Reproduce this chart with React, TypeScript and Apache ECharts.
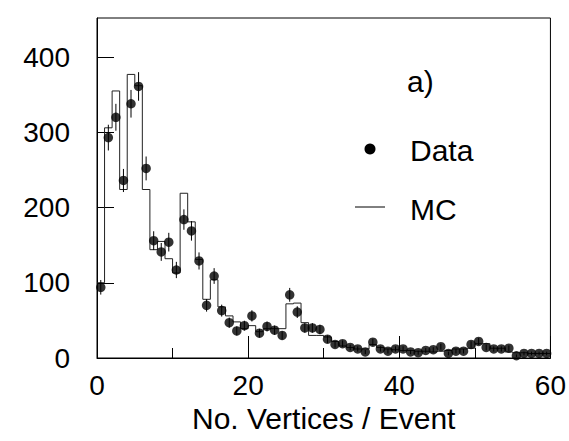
import React, { useEffect, useRef } from "react";
import * as echarts from "echarts";

// Histogram: number of vertices per event, bins of width 1 from 0 to 60
const binLeftEdges = Array.from({ length: 60 }, (_, i) => i);
const dataCounts = [
  94, 293, 320, 236, 338, 361, 252, 156, 141, 154,
  117, 184, 169, 129, 70, 109, 63, 47, 36, 43,
  56, 33, 42, 37, 30, 84, 61, 40, 40, 38,
  25, 18, 19, 14, 12, 8, 21, 12, 9, 12,
  12, 8, 7, 10, 11, 15, 6, 9, 9, 18,
  22, 14, 12, 12, 13, 3, 6, 6, 6, 6,
];
const mcCounts = [
  100, 306, 355, 224, 377, 362, 224, 144, 155, 132,
  113, 219, 181, 131, 78, 104, 68, 56, 48, 39,
  43, 35, 39, 39, 39, 72, 73, 47, 30, 30,
  28, 22, 16, 14, 12, 12, 18, 14, 12, 11,
  10, 10, 9, 9, 8, 9, 10, 12, 12, 13,
  19, 19, 13, 13, 8, 7, 7, 6, 6, 6,
];
const xTickLabels = [0, 20, 40, 60];
const yTickLabels = [0, 100, 200, 300, 400];

const FONT = "Liberation Sans, Arial, Helvetica, sans-serif";

export default function App() {
  const ref = useRef<HTMLDivElement>(null);
  useEffect(() => {
    document.body.style.margin = "0";
    if (!ref.current) return;
    const chart = echarts.init(ref.current, undefined, { renderer: "svg" });
    const points = dataCounts.map((v, i) => [binLeftEdges[i] + 0.5, v]);
    const mcLine = mcCounts.map((v, i) => [binLeftEdges[i], v]);
    mcLine.push([60, mcCounts[mcCounts.length - 1]]);
    const errData = dataCounts.map((v, i) => [binLeftEdges[i] + 0.5, v, Math.sqrt(v)]);

    chart.setOption({
      animation: false,
      backgroundColor: "#fff",
      grid: {
        left: 97,
        right: 18,
        top: 18,
        bottom: 83,
        show: true,
        borderColor: "#000",
        borderWidth: 1,
        backgroundColor: "transparent",
      },
      xAxis: {
        type: "value",
        min: 0,
        max: 60,
        interval: 20,
        axisLine: { show: true, lineStyle: { color: "#000", width: 1 } },
        axisTick: { show: true, inside: true, length: 22, lineStyle: { color: "#000" } },
        minorTick: { show: true, splitNumber: 2, length: 10, lineStyle: { color: "#000" } },
        splitLine: { show: false },
        axisLabel: {
          fontSize: 28,
          fontFamily: FONT,
          color: "#000",
          margin: 13,
          formatter: (v: number) => (xTickLabels.includes(v) ? String(v) : ""),
        },
        name: "No. Vertices / Event",
        nameLocation: "middle",
        nameGap: 42,
        nameTextStyle: { fontSize: 30, fontFamily: FONT, color: "#000" },
      },
      yAxis: {
        type: "value",
        min: 0,
        max: 452,
        interval: 100,
        axisLine: { show: true, lineStyle: { color: "#000", width: 1 } },
        axisTick: { show: true, inside: true, length: 17, lineStyle: { color: "#000" } },
        splitLine: { show: false },
        axisLabel: {
          fontSize: 28,
          fontFamily: FONT,
          color: "#000",
          margin: 27,
          showMaxLabel: false,
          formatter: (v: number) => (yTickLabels.includes(v) ? String(v) : ""),
        },
      },
      series: [
        {
          type: "line",
          name: "MC",
          step: "end",
          data: mcLine,
          showSymbol: false,
          lineStyle: { color: "#222", width: 1 },
          z: 2,
        },
        {
          type: "custom",
          name: "err",
          data: errData,
          renderItem: (params: any, api: any) => {
            const x = api.value(0);
            const y = api.value(1);
            const e = api.value(2);
            const p1 = api.coord([x, y - e]);
            const p2 = api.coord([x, y + e]);
            return {
              type: "line",
              shape: { x1: p1[0], y1: p1[1], x2: p2[0], y2: p2[1] },
              style: { stroke: "#000", lineWidth: 1 },
            };
          },
          z: 3,
        },
        {
          type: "scatter",
          name: "Data",
          data: points,
          symbol: "circle",
          symbolSize: 9.5,
          itemStyle: { color: "#000" },
          z: 4,
        },
      ],
      graphic: [
        {
          type: "text",
          left: 407,
          top: 66,
          style: { text: "a)", fontSize: 30, fontFamily: FONT, fill: "#000" },
        },
        {
          type: "circle",
          shape: { cx: 370, cy: 149, r: 5.5 },
          style: { fill: "#000" },
        },
        {
          type: "text",
          x: 410,
          y: 150,
          style: { text: "Data", fontSize: 30, fontFamily: FONT, fill: "#000", verticalAlign: "middle" },
        },
        {
          type: "line",
          shape: { x1: 355, y1: 207, x2: 385, y2: 207 },
          style: { stroke: "#000", lineWidth: 1 },
        },
        {
          type: "text",
          x: 410,
          y: 209,
          style: { text: "MC", fontSize: 30, fontFamily: FONT, fill: "#000", verticalAlign: "middle" },
        },
      ],
    });
    return () => chart.dispose();
  }, []);
  return <div ref={ref} style={{ width: 569, height: 441 }} />;
}
